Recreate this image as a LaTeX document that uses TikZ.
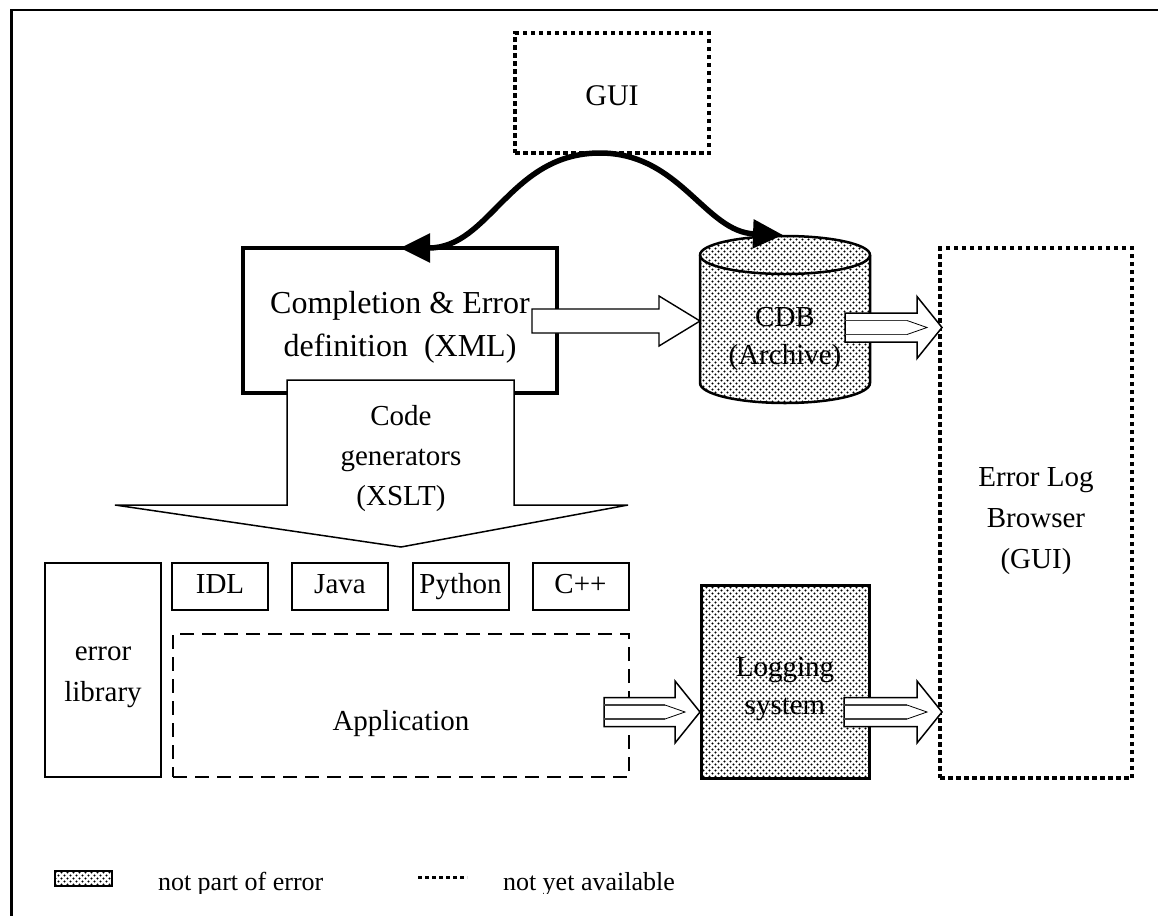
\documentclass[tikz,border=0pt]{standalone}
\usepackage{fontspec}
\setmainfont{Liberation Serif}
\usetikzlibrary{patterns,calc,arrows.meta}

% staggered dot fill for components outside the error system
\pgfdeclarepatternformonly{stipple}{\pgfqpoint{-1pt}{-1pt}}{\pgfqpoint{7pt}{7pt}}{\pgfqpoint{6pt}{6pt}}{%
  \pgfpathcircle{\pgfqpoint{1.5pt}{1.5pt}}{1.05pt}%
  \pgfpathcircle{\pgfqpoint{4.5pt}{4.5pt}}{1.05pt}%
  \pgfusepath{fill}}

% plain hollow block arrow: #1 start, #2 tip
\newcommand{\hollowarrow}[2]{%
  \draw[line width=1.4pt, fill=white, line join=miter]
    ($(#1)+(0,-12)$) -- ($(#2)+(-41,-12)$) -- ($(#2)+(-41,-25)$) -- (#2)
    -- ($(#2)+(-41,25)$) -- ($(#2)+(-41,12)$) -- ($(#1)+(0,12)$) -- cycle;}

% striped block arrow with an inner arrow outline: #1 start, #2 tip
\newcommand{\stripedarrow}[2]{%
  \draw[line width=1.5pt, fill=white, line join=miter]
    ($(#1)+(0,-14.5)$) -- ($(#2)+(-25,-14.5)$) -- ($(#2)+(-25,-31)$) -- (#2)
    -- ($(#2)+(-25,31)$) -- ($(#2)+(-25,14.5)$) -- ($(#1)+(0,14.5)$) -- cycle;
  \draw[line width=1.2pt, black!75]
    ($(#1)+(0,-7)$) -- ($(#2)+(-35,-7)$);
  \draw[line width=1.2pt, black!75]
    ($(#1)+(0,7)$) -- ($(#2)+(-35,7)$);
  \draw[line width=0.8pt]
    ($(#2)+(-35,-7)$) -- ($(#2)+(-15,0)$) -- ($(#2)+(-35,7)$);}

\begin{document}
\begin{tikzpicture}[x=1pt,y=-1pt,
  every node/.style={inner sep=0pt, outer sep=0pt},
  lbl/.style={font=\fontsize{29}{41}\selectfont, align=center},
  box/.style={draw, line width=2pt, lbl},
  dotline/.style={line width=3.2pt, dash pattern=on 4.5pt off 3.5pt},
  dashline/.style={line width=1.9pt, dash pattern=on 14pt off 8pt},
  dotbox/.style={draw, dotline},
  heavy/.style={line width=5.5pt},
  tipstyle/.tip={Triangle[length=30pt, width=28pt]},
  small/.style={box, minimum width=96, minimum height=47, text height=20, text depth=6},
]
\useasboundingbox (0,0) rectangle (1158,916);

% page frame (top and left rules)
\draw[line width=2.4pt] (10,10) -- (1158,10);
\draw[line width=2.4pt] (11.3,9) -- (11.3,916);

% GUI (not yet available)
\node[dotbox, minimum width=194, minimum height=120] (gui) at (612,93) {};
\node[lbl, font=\fontsize{30}{41}\selectfont] (guitxt) at (612,96) {GUI};

% completion & error definition
\node[draw, line width=3.3pt, minimum width=314, minimum height=145] (comp) at (400,320.5) {};
\node[lbl, font=\fontsize{32}{43}\selectfont] (comptxt) at (400,327)
      {Completion \& Error\\definition\ \ (XML)};

% code generator block arrow
\draw[line width=1.5pt, fill=white, line join=miter]
  (287,380) -- (514,380) -- (514,505) -- (628,505) -- (401,547)
  -- (115,505) -- (287,505) -- cycle;
\node[lbl, font=\fontsize{29}{40}\selectfont] (codegen) at (401,459)
  {Code\\generators\\(XSLT)};

% CDB archive cylinder
\path[pattern=stipple] (700,255) -- (700,383)
  arc[start angle=180, end angle=0, x radius=85, y radius=20] -- (870,255)
  arc[start angle=0, end angle=-180, x radius=85, y radius=19] -- cycle;
\draw[line width=2.5pt] (700,255) -- (700,383)
  arc[start angle=180, end angle=0, x radius=85, y radius=20] -- (870,255)
  arc[start angle=0, end angle=-180, x radius=85, y radius=19] -- cycle;
\draw[line width=2.5pt] (700,255)
  arc[start angle=180, end angle=0, x radius=85, y radius=19];
\node[lbl, font=\fontsize{29}{38}\selectfont] (cdb) at (785,339) {CDB\\(Archive)};
\coordinate (cdbtop) at (783,235);

% error log browser
\node[dotbox, minimum width=192, minimum height=530] (browser) at (1036,513) {};
\node[lbl] (browsertxt) at (1036,521) {Error Log\\Browser\\(GUI)};

% arrows around the archive
\coordinate (a1s) at (532,321);
\coordinate (a1t) at (700,321);
\hollowarrow{a1s}{a1t}
\coordinate (a2s) at (845,327.5);
\coordinate (a2t) at (942,327.5);
\stripedarrow{a2s}{a2t}

% GUI edits definitions and archive
\draw[heavy, tipstyle-tipstyle] (comp.north)
  .. controls (490,248) and (510,153) .. (600,153)
  .. controls (680,153) and (705,232) .. (cdbtop);

% generated libraries
\node[box, minimum width=116, minimum height=214] (lib) at (103,670) {};
\node[lbl] (libtxt) at (103,677) {error\\library};
\node[small] (idl) at (220,586) {IDL};
\node[small] (java) at (340,586) {Java};
\node[small] (python) at (460.5,586) {Python};
\node[small] (cpp) at (580.5,586) {C++};

% application (not yet available in full)
\node[draw, dashline, minimum width=456, minimum height=143] (app) at (401,705.5) {};
\node[lbl] (apptxt) at (401,724) {Application};

% logging system
\node[draw, line width=3pt, pattern=stipple, minimum width=168, minimum height=193] (log) at (785,681.5) {};
\node[lbl, font=\fontsize{29}{38}\selectfont] (logtxt) at (785,689) {Logging\\system};

% log flow
\coordinate (a3s) at (604,712);
\coordinate (a3t) at (700,712);
\stripedarrow{a3s}{a3t}
\coordinate (a4s) at (844,712);
\coordinate (a4t) at (942,712);
\stripedarrow{a4s}{a4t}

% legend
\node[draw, line width=2.5pt, pattern=stipple, minimum width=57, minimum height=15]
  (legbox) at (83.5,878.5) {};
\coordinate (legdl) at (418,877);
\coordinate (legdr) at (467,877);
\draw[line width=3pt, dash pattern=on 4pt off 3pt] (legdl) -- (legdr);
\begin{scope}
  \clip (150,850) rectangle (720,893);
  \node[font=\fontsize{26}{30}\selectfont, anchor=base west] (leg1) at (158,890) {not part of error};
  \node[font=\fontsize{26}{30}\selectfont, anchor=base west] (leg2) at (503,890) {not yet available};
\end{scope}
\end{tikzpicture}
\end{document}
